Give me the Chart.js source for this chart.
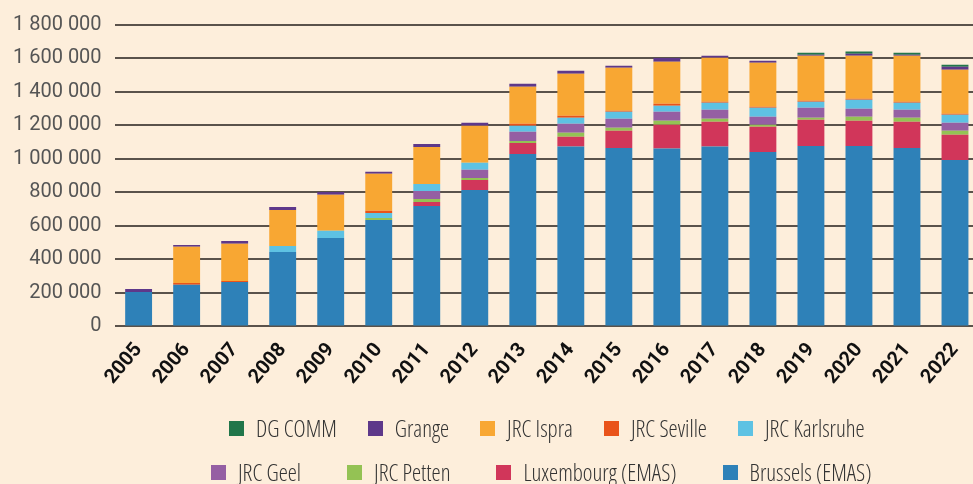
<!DOCTYPE html>
<html>
<head>
<meta charset="utf-8">
<script src="https://cdn.jsdelivr.net/npm/chart.js@4/dist/chart.umd.min.js"></script>
<style>
  html, body { margin: 0; padding: 0; background: #fdeedb; overflow: hidden; }
  #wrap { position: relative; width: 979px; height: 484px; }
  #legend { position: absolute; left: 0; top: 412px; width: 973px;
            font-family: "Open Sans", Roboto, sans-serif; font-stretch: condensed;
            font-weight: 300; font-size: 23px; color: #333; }
  .lrow { display: flex; align-items: center; height: 32px; margin-bottom: 12px; }
  .litem { display: flex; align-items: center; white-space: nowrap; }
  .lbox { width: 15px; height: 15px; margin-right: 12px; }
</style>
</head>
<body>
<div id="wrap">
  <canvas id="chart"></canvas>
  <div id="legend"></div>
</div>
<script>
// data
var years = ['2005','2006','2007','2008','2009','2010','2011','2012','2013',
             '2014','2015','2016','2017','2018','2019','2020','2021','2022'];

var brussels   = [205000, 249000, 265000, 444000, 528000, 636000, 719000, 815000, 1030000,
                  1074000, 1066000, 1062000, 1074000, 1042000, 1078000, 1078000, 1066000, 994000];
var luxembourg = [0, 0, 0, 0, 0, 0, 24000, 60000, 66000,
                  58000, 102000, 142000, 148000, 150000, 156000, 150000, 156000, 150000];
var petten     = [0, 0, 0, 0, 0, 12000, 18000, 12000, 12000,
                  24000, 18000, 24000, 18000, 12000, 12000, 24000, 24000, 24000];
var geel       = [0, 0, 0, 0, 0, 0, 48000, 48000, 54000,
                  54000, 54000, 54000, 54000, 48000, 60000, 48000, 48000, 48000];
var karlsruhe  = [0, 0, 0, 36000, 44000, 30000, 42000, 42000, 36000,
                  36000, 42000, 36000, 42000, 54000, 36000, 54000, 42000, 48000];
var seville    = [0, 10000, 6000, 0, 0, 12000, 0, 0, 12000,
                  12000, 6000, 12000, 6000, 6000, 6000, 6000, 6000, 6000];
var ispra      = [0, 217000, 223000, 215000, 215000, 221000, 221000, 221000, 221000,
                  251000, 257000, 251000, 263000, 263000, 269000, 257000, 275000, 263000];
var grange     = [18000, 10000, 16000, 18000, 16000, 12000, 18000, 18000, 18000,
                  18000, 12000, 22000, 12000, 12000, 6000, 12000, 6000, 18000];
var dgComm     = [0, 0, 0, 0, 0, 0, 0, 0, 0,
                  0, 0, 0, 0, 0, 12000, 12000, 12000, 12000];

var yTicks = { min: 0, max: 1800000, step: 200000 };
var legendRows = [5, 4];

function spaced(v) {
    return String(v).replace(/\B(?=(\d{3})+(?!\d))/g, ' ');
}

// builds the legend as html, top of stack first
var htmlLegend = {
    id: 'htmlLegend',
    afterUpdate: function(chart) {
        var box = document.getElementById('legend');
        box.innerHTML = '';
        var items = chart.options.plugins.legend.labels.generateLabels(chart).reverse();
        var k = 0;
        legendRows.forEach(function(n, r) {
            var row = document.createElement('div');
            row.className = 'lrow';
            row.style.marginLeft = (r === 0 ? 229 : 211) + 'px';
            for (var i = 0; i < n && k < items.length; i++, k++) {
                var it = document.createElement('div');
                it.className = 'litem';
                it.style.marginRight = (r === 0 ? 31 : 46) + 'px';
                var sw = document.createElement('span');
                sw.className = 'lbox';
                sw.style.background = items[k].fillStyle;
                var tx = document.createElement('span');
                tx.textContent = items[k].text;
                it.appendChild(sw);
                it.appendChild(tx);
                row.appendChild(it);
            }
            box.appendChild(row);
        });
    }
};

function ds(label, data, color) {
    return { label: label, data: data, backgroundColor: color, borderWidth: 0 };
}

new Chart(document.getElementById('chart').getContext('2d'), {
    type: 'bar',
    data: {
        labels: years,
        datasets: [
            ds('Brussels (EMAS)', brussels, '#2e81b8'),
            ds('Luxembourg (EMAS)', luxembourg, '#d1365a'),
            ds('JRC Petten', petten, '#94c254'),
            ds('JRC Geel', geel, '#955fa3'),
            ds('JRC Karlsruhe', karlsruhe, '#5ec2e3'),
            ds('JRC Seville', seville, '#e9531a'),
            ds('JRC Ispra', ispra, '#f8a733'),
            ds('Grange', grange, '#5e388a'),
            ds('DG COMM', dgComm, '#21764a')
        ]
    },
    options: {
        responsive: true,
        maintainAspectRatio: false,
        animation: false,
        categoryPercentage: 1.0,
        barPercentage: 0.56,
        layout: { padding: { top: 15, left: 0, right: 0, bottom: 91 } },
        plugins: {
            legend: { display: false },
            tooltip: { enabled: false }
        },
        scales: {
            x: {
                stacked: true,
                grid: { display: false },
                border: { display: false },
                afterFit: function(scale) { scale.paddingLeft = 0; },
                ticks: {
                    color: '#111',
                    font: { family: 'Roboto', size: 20, weight: 'bold' },
                    minRotation: 50,
                    maxRotation: 50,
                    autoSkip: false,
                    padding: 4
                }
            },
            y: {
                stacked: true,
                min: yTicks.min,
                max: yTicks.max,
                border: { display: false },
                grid: { color: '#5a524b', lineWidth: 2, drawTicks: false },
                ticks: {
                    stepSize: yTicks.step,
                    color: '#555',
                    padding: 13,
                    font: { family: 'Roboto', size: 20 },
                    callback: function(v) { return spaced(v); }
                }
            }
        }
    },
    plugins: [htmlLegend]
});
</script>
</body>
</html>
